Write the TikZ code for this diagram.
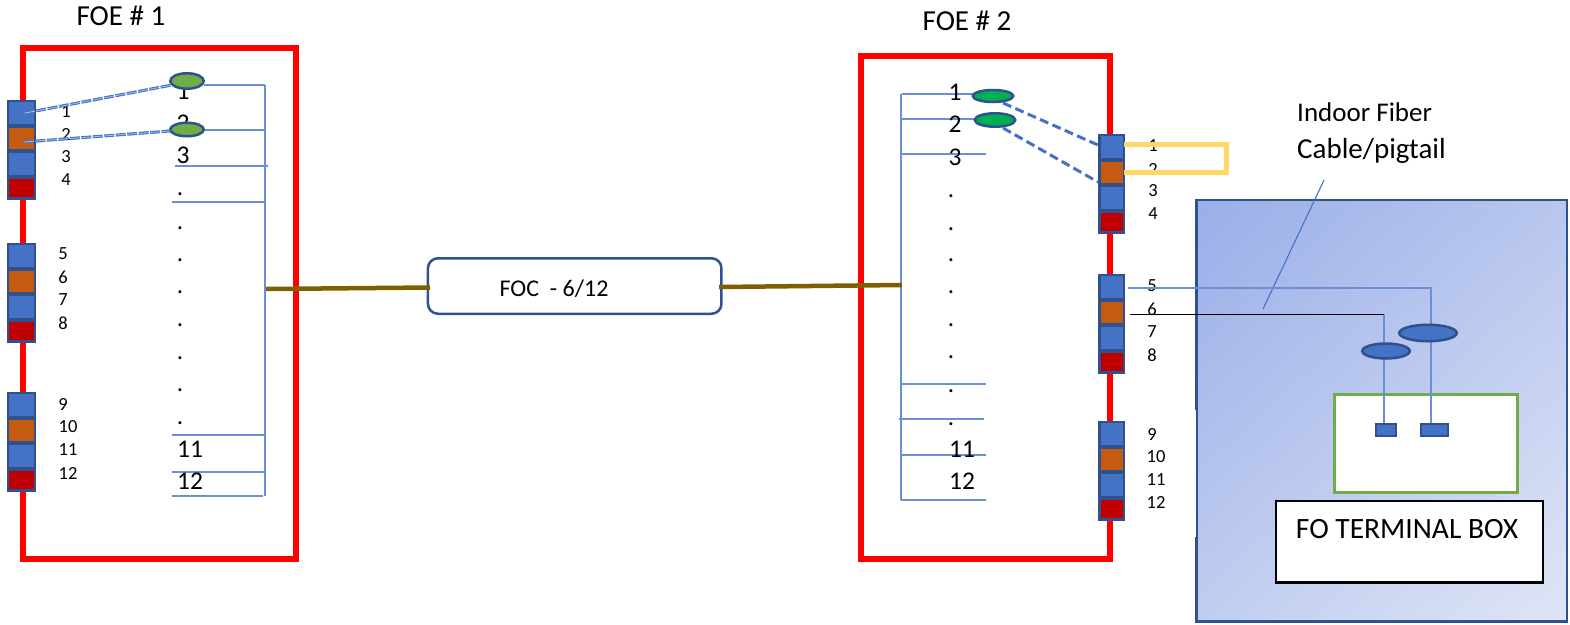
\documentclass[tikz,border=0pt]{standalone}
\usepackage{fontspec}
\setmainfont{Carlito}
\usetikzlibrary{shapes.geometric}
\definecolor{edgeblue}{HTML}{2F528F}
\definecolor{portblue}{HTML}{4472C4}
\definecolor{portorange}{HTML}{C55A11}
\definecolor{portred}{HTML}{C00000}
\definecolor{wireblue}{HTML}{6A8FD6}
\definecolor{trunk}{HTML}{7F6000}
\definecolor{loopyellow}{HTML}{FFD966}
\definecolor{leaf}{HTML}{70AD47}
\definecolor{splice}{HTML}{00B050}
\definecolor{panelA}{HTML}{9AAFE8}
\definecolor{panelB}{HTML}{DFE5F6}
\pgfdeclareverticalshading{panelshade}{100bp}{color(0bp)=(panelB); color(15bp)=(panelB); color(85bp)=(panelA); color(100bp)=(panelA)}
\tikzset{
  x=1pt,y=-1pt,
  cell/.style={draw=edgeblue,line width=2.5pt,minimum height=#1,inner sep=0pt,outer sep=0pt,anchor=north},
  cell/.default=24pt,
  redbox/.style={draw=red,line width=5.5pt},
  wire/.style={draw=wireblue,line width=1.2pt},
  jump/.style={draw=portblue,line width=3pt,dash pattern=on 9pt off 4.5pt},
  dbl/.style={draw=portblue,line width=1.1pt,double=white!55!portblue,double distance=0.8pt,dash pattern=on 10pt off 1.5pt},
  oval/.style={ellipse,draw=edgeblue,line width=2.5pt,inner sep=0pt,outer sep=0pt},
  small/.style={font=\fontsize{18.5}{20}\selectfont,inner sep=0pt},
  big/.style={font=\fontsize{25.5}{28}\selectfont,inner sep=0pt},
  title/.style={font=\fontsize{29}{32}\selectfont,inner sep=0pt},
  dotlabel/.style={font=\fontsize{25}{28}\selectfont,inner sep=0pt,anchor=base}
}
\newcommand{\portgroup}[4]{%
  \node[cell,minimum width=#4,fill=portblue] (#1a) at (#2,#3+1) {};
  \node[cell,minimum width=#4,fill=portorange] (#1b) at (#2,#3+26.5) {};
  \node[cell,minimum width=#4,fill=portblue] (#1c) at (#2,#3+52) {};
  \node[cell=21pt,minimum width=#4,fill=portred] (#1d) at (#2,#3+77.5) {};
}
\begin{document}
\begin{tikzpicture}
\useasboundingbox (0,0) rectangle (1570,624);
% big shaded panel
\shade[shading=panelshade,shading angle=42] (1196.5,200) rectangle (1567,621.5);
\draw[edgeblue,line width=2.5pt] (1196.5,200) rectangle (1567,621.5);
\fill[white] (1189,410) rectangle (1196,537);
% red enclosures
\draw[redbox] (23,48) rectangle (296,559);
\draw[redbox] (861,56) rectangle (1110,559);
% titles
\node[title] (t1) at (121,16) {FOE \# 1};
\node[title] (t2) at (967,21) {FOE \# 2};
% FOC
\node[draw=edgeblue,line width=2.5pt,rounded corners=10pt,minimum width=293.5pt,minimum height=55.5pt,inner sep=0pt,outer sep=0pt] (foc) at (574.7,286) {};
\node[font=\fontsize{24}{26}\selectfont,inner sep=0pt] (foct) at (554,289) {FOC\ \ - 6/12};
% left frame wiring
\coordinate (L0) at (265,85);
\coordinate (L9) at (265,496);
\draw[wire] (L0) -- (L9);
\foreach \nm/\yy/\xa/\xb in {a/85/204/265,b/130/205/265,c/166/175/268,d/202/172/265,e/435/172/265,f/472/172/265,g/496/172/263}{
  \coordinate (Lx\nm) at (\xa,\yy);
  \coordinate (Ly\nm) at (\xb,\yy);
  \draw[wire] (Lx\nm) -- (Ly\nm);
}
\node[big] (n1a) at (183,91) {1};
\node[big] (n1b) at (183,123) {2};
\node[big] (n1c) at (183,155) {3};
\foreach \i/\yy in {1/186,2/220,3/252,4/284,5/317,6/350,7/382,8/415}{
  \node[dotlabel] (d1\i) at (180,\yy+9) {.};
}
\node[big] (n1k) at (190,449) {11};
\node[big] (n1l) at (190,481) {12};
\node[oval,fill=leaf,minimum width=33.5pt,minimum height=15.5pt] (e1) at (187,81) {};
\node[oval,fill=leaf,minimum width=33.5pt,minimum height=13.5pt] (e2) at (187,129.5) {};
% right frame wiring
\coordinate (R0) at (901,94);
\coordinate (R9) at (901,500);
\draw[wire] (R0) -- (R9);
\foreach \nm/\yy/\xa/\xb in {a/94/902/975,b/119/901/975,c/154/901/986,d/384/901/986,e/419/899/984,f/455/901/986,g/500/901/986}{
  \coordinate (Rx\nm) at (\xa,\yy);
  \coordinate (Ry\nm) at (\xb,\yy);
  \draw[wire] (Rx\nm) -- (Ry\nm);
}
\node[big] (n2a) at (955,92) {1};
\node[big] (n2b) at (955,124) {2};
\node[big] (n2c) at (955,157) {3};
\foreach \i/\yy in {1/188,2/221,3/252,4/284,5/317,6/349,7/383,8/416}{
  \node[dotlabel] (d2\i) at (951,\yy+9) {.};
}
\node[big] (n2k) at (962,449) {11};
\node[big] (n2l) at (962,481) {12};
\node[oval,fill=splice,minimum width=40.5pt,minimum height=12pt] (e3) at (993,96) {};
\node[oval,fill=splice,minimum width=40.5pt,minimum height=13.5pt] (e4) at (995,120) {};
% trunk
\coordinate (T1) at (266,289);
\coordinate (T2) at (430,287.5);
\coordinate (T3) at (719,287);
\coordinate (T4) at (902,285);
\draw[trunk,line width=4.5pt] (T1) -- (T2);
\draw[trunk,line width=4.5pt] (T3) -- (T4);
% port strips
\portgroup{A}{21.5}{100}{27pt}
\portgroup{B}{21.5}{243}{27pt}
\portgroup{C}{21.5}{392}{27pt}
\portgroup{D}{1111.5}{134}{24.5pt}
\portgroup{E}{1111.5}{274}{24.5pt}
\portgroup{F}{1111.5}{421}{24.5pt}
% port numbers
\foreach \t/\xx/\yy in {1/66/112,2/66/134,3/66/157,4/66/180,5/63/254,6/63/277,7/63/300,8/63/323,9/63/404,10/68/427,11/68/450,12/68/473,
  1/1153/146,2/1153/169,3/1153/191,4/1153/214,5/1152/286,6/1152/309,7/1152/332,8/1152/355,9/1152/434,10/1156/457,11/1156/480,12/1156/502}{
  \node[small] at (\xx,\yy) {\t};
}
% dashed jumpers
\coordinate (J1) at (25,113);
\coordinate (J2) at (24,142);
\coordinate (J3) at (172,85);
\coordinate (J4) at (170,131);
\draw[dbl] (J1) -- (J3);
\draw[dbl] (J2) -- (J4);
\coordinate (J5) at (1003,103);
\coordinate (J6) at (1003,128);
\coordinate (J7) at (1098,145);
\coordinate (J8) at (1098,182);
\draw[jump] (J5) -- (J7);
\draw[jump] (J6) -- (J8);
% yellow loop
\coordinate (Y1) at (1124,144.5);
\coordinate (Y2) at (1226,144.5);
\coordinate (Y3) at (1226,172);
\coordinate (Y4) at (1124,172);
\draw[loopyellow,line width=5pt,line join=miter] (Y1) -- (Y2) -- (Y3) -- (Y4);
% leader and its label
\coordinate (Q1) at (1324,180);
\coordinate (Q2) at (1263,309);
\draw[portblue,line width=1.1pt] (Q1) -- (Q2);
\node[font=\fontsize{27}{30}\selectfont,inner sep=0pt,anchor=west] (q3) at (1297,112) {Indoor Fiber};
\node[title,anchor=west] (q4) at (1297,151) {Cable/pigtail};
% terminal box
\node[draw=leaf,fill=white,line width=3pt,minimum width=183pt,minimum height=98pt,inner sep=0pt,outer sep=0pt] (gb) at (1425.5,443) {};
\node[draw=black,fill=white,line width=2.2pt,minimum width=267.5pt,minimum height=81.5pt,inner sep=0pt,outer sep=0pt] (bb) at (1409.5,541.7) {};
\node[font=\fontsize{29.5}{32}\selectfont,inner sep=0pt] (bt) at (1407,529) {FO TERMINAL BOX};
% drops
\coordinate (W1) at (1128,288);
\coordinate (W2) at (1431,288);
\coordinate (W3) at (1431,423);
\coordinate (W4) at (1130,314);
\coordinate (W5) at (1384,314);
\coordinate (W6) at (1384,423);
\draw[wire] (W1) -- (W2) -- (W3);
\draw[wire] (W5) -- (W6);
\draw[black,line width=0.9pt] (W4) -- (W5);
\node[draw=edgeblue,fill=portblue,line width=2pt,minimum width=20pt,minimum height=12pt,inner sep=0pt,outer sep=0pt] (s1) at (1385.5,429.5) {};
\node[draw=edgeblue,fill=portblue,line width=2pt,minimum width=27pt,minimum height=12pt,inner sep=0pt,outer sep=0pt] (s2) at (1434.5,429.5) {};
\node[oval,fill=portblue,minimum width=57.5pt,minimum height=16.5pt] (o1) at (1428,333) {};
\node[oval,fill=portblue,minimum width=47.5pt,minimum height=15pt] (o2) at (1386,351) {};
\end{tikzpicture}
\end{document}
